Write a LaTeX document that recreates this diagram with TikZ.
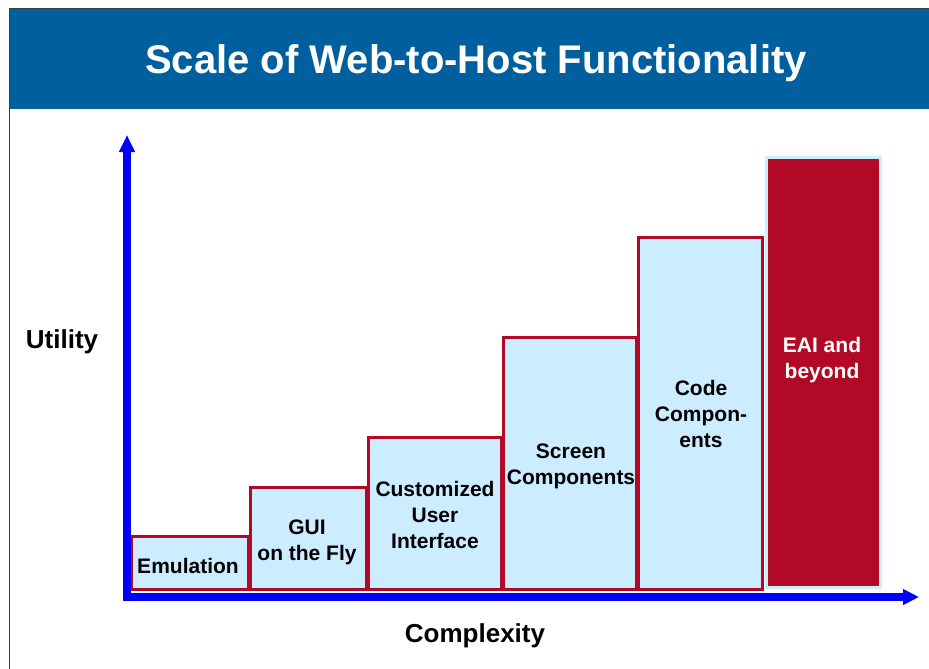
\documentclass[tikz,border=0pt]{standalone}
\usepackage{fontspec}
\setmainfont{Liberation Sans}
\usetikzlibrary{arrows.meta}
\definecolor{titleblue}{RGB}{0,95,159}
\definecolor{barfill}{RGB}{204,236,255}
\definecolor{barred}{RGB}{178,10,38}
\definecolor{axisblue}{RGB}{0,0,255}
\definecolor{framegray}{RGB}{60,60,60}
\tikzset{
  bar/.style={draw=barred, fill=barfill, line width=3pt, inner sep=0pt, outer sep=0pt, anchor=north west},
  topbar/.style={draw=barfill, fill=barred, line width=3pt, inner sep=0pt, outer sep=0pt, anchor=north west},
  lbl/.style={font=\bfseries\fontsize{21}{26}\selectfont, align=center, inner sep=0pt, anchor=base},
  axlbl/.style={font=\bfseries\fontsize{26}{30}\selectfont, inner sep=0pt, anchor=base},
  axis/.style={draw=axisblue, line width=8pt}
}
\begin{document}
\begin{tikzpicture}[x=1pt,y=-1pt]
\useasboundingbox (0,0) rectangle (929,669);
% frame and title
\fill[titleblue] (9,9) rectangle (929,109);
\draw[framegray, line width=1.5pt] (9.5,669) -- (9.5,8.5) -- (929,8.5);
\node[font=\bfseries\fontsize{40}{46}\selectfont, text=white, inner sep=0pt, anchor=base] (title) at (476,74) {Scale of Web-to-Host Functionality};
% bars
\node[bar, minimum width=117pt, minimum height=53pt] (b1) at (131,536) {};
\node[bar, minimum width=116pt, minimum height=102pt] (b2) at (250,487) {};
\node[bar, minimum width=133pt, minimum height=152pt] (b3) at (368,437) {};
\node[bar, minimum width=133pt, minimum height=252pt] (b4) at (503,337) {};
\node[bar, minimum width=124pt, minimum height=352pt] (b5) at (638,237) {};
\node[topbar, minimum width=114pt, minimum height=430pt] (b6) at (766,157) {};
% labels (anchor = baseline of last line)
\node[lbl] (l1) at (188,573) {Emulation};
\node[lbl] (l2) at (307,560) {GUI\\on the Fly};
\node[lbl] (l3) at (435,548) {Customized\\User\\Interface};
\node[lbl] (l4) at (571,484) {Screen\\Components};
\node[lbl] (l5) at (701,447) {Code\\Compon-\\ents};
\node[lbl, text=white] (l6) at (822,378) {EAI and\\beyond};
% axes
\coordinate (ystart) at (127,601);
\coordinate (ytip) at (127,135);
\coordinate (xstart) at (123,597);
\coordinate (xtip) at (919,597);
\draw[axis, -{Triangle[length=17pt,width=15pt]}] (ystart) -- (ytip);
\draw[axis, -{Triangle[length=16pt,width=15pt]}] (xstart) -- (xtip);
\node[axlbl] (util) at (62,348) {Utility};
\node[axlbl] (comp) at (475,642) {Complexity};
\end{tikzpicture}
\end{document}
